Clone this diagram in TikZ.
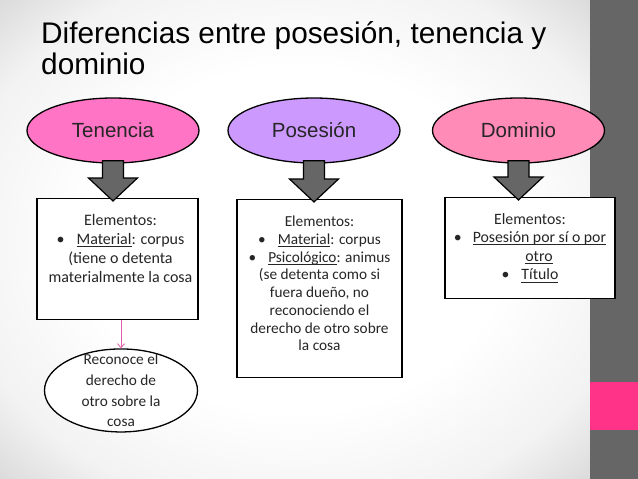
\documentclass[tikz,border=0pt]{standalone}
\usepackage{fontspec}
\setmainfont{Carlito}
\newfontfamily\titlefont{Liberation Sans}
\usetikzlibrary{positioning}
\usetikzlibrary{shapes.geometric, arrows.meta, calc}

\definecolor{bandgray}{HTML}{666666}
\definecolor{bandpink}{HTML}{FF3388}
\definecolor{tencolor}{HTML}{FF74C4}
\definecolor{poscolor}{HTML}{CC99FF}
\definecolor{domcolor}{HTML}{FF8BB6}
\definecolor{linkpink}{HTML}{E45CAC}
\pgfdeclareradialshading{slideshade}{\pgfpoint{0bp}{0bp}}{color(0bp)=(white); color(18bp)=(white); color(29bp)=(gray!10); color(36bp)=(gray!30); color(50bp)=(gray!30)}
\newcommand\undl[1]{\setbox0=\hbox{#1}\rlap{\rule[-2.4pt]{\wd0}{0.7pt}}\box0}

\begin{document}
\begin{tikzpicture}[x=1pt, y=-1pt, node distance = 28pt]
    \tikzset{
    topic/.style=
    {
        ellipse,
        draw,
        line width=1.3pt,
        minimum width=172pt,
        minimum height=65pt,
        inner sep=0pt,
        font=\titlefont\fontsize{20.5}{24}\selectfont,
        text=black!85
    },
    elembox/.style=
    {
        rectangle,
        draw,
        line width=1.3pt,
        fill=white,
        anchor=north
    },
    elemtext/.style=
    {
        align=center,
        inner sep=0pt,
        anchor=north,
        text=black!85
    },
    recell/.style=
    {
        ellipse,
        draw,
        line width=1.3pt,
        fill=white,
        minimum width=153pt,
        minimum height=83pt
    },
    bigarrow/.style=
    {
        draw,
        line width=1.2pt,
        fill=bandgray
    },
    link/.style=
    {
        draw=linkpink,
        line width=0.8pt,
        -{Straight Barb[length=4pt,width=7pt]}
    }
}

  \useasboundingbox (0,0) rectangle (638,479);
  \shade[shading=slideshade] (0,0) rectangle (590,479);
  \fill[bandgray] (590,0) rectangle (638,479);
  \fill[bandpink] (590,382) rectangle (638,430);

  \node[anchor=north west, inner sep=0pt, align=left, font=\titlefont\fontsize{29.8}{31}\selectfont] (title) at (41,21) {Diferencias entre posesión, tenencia y\\dominio};

  \node[topic, fill=tencolor] (ten) at (113,130.5) {Tenencia};
  \node[topic, fill=poscolor] (pos) at (314,130.5) {Posesión};
  \node[topic, fill=domcolor] (dom) at (518.5,130.5) {Dominio};

  \node[elembox, minimum width=161pt, minimum height=121pt] (tenbox) at (117.5,198) {};
  \node[elembox, minimum width=165pt, minimum height=178pt] (posbox) at (319.5,199) {};
  \node[elembox, minimum width=170pt, minimum height=101pt] (dombox) at (530,197) {};

  \node[elemtext, font=\fontsize{16}{19}\selectfont] (tentext) at ([xshift=3pt, yshift=-16pt]tenbox.north)
    {Elementos:\\ \textbullet\hspace{12pt}\undl{Material}: corpus\\ (tiene o detenta\\ materialmente la cosa};
  \node[elemtext, font=\fontsize{15.3}{17.7}\selectfont] (postext) at ([yshift=-17pt]posbox.north)
    {Elementos:\\ \textbullet\hspace{12pt}\undl{Material}: corpus\\ \textbullet\hspace{12pt}\undl{Psicológico}: animus\\ (se detenta como si\\ fuera dueño, no\\ reconociendo el\\ derecho de otro sobre\\ la cosa};
  \node[elemtext, font=\fontsize{15.8}{18.6}\selectfont] (domtext) at ([yshift=-16pt]dombox.north)
    {Elementos:\\ \textbullet\hspace{11pt}\undl{Posesión por sí o por}\\ \hspace*{18pt}\undl{otro}\\ \textbullet\hspace{12pt}\undl{Título}};

  \node[recell, below=28pt of tenbox, xshift=3.5pt] (tenrec) {};
  \node[elemtext, anchor=center, font=\fontsize{15.3}{20.8}\selectfont] (rectext) at (tenrec) {Reconoce el\\derecho de\\otro sobre la\\cosa};
  \draw[link] (tenbox.south -| tenrec.north) -- (tenrec.north);

  \foreach \e/\b in {ten/tenbox, pos/posbox, dom/dombox}
  {
    \coordinate (s) at (\e.south);
    \coordinate (t) at (\e.south |- \b.north);
    \draw[bigarrow] ($(s)+(-10.5,-3)$) -- ($(s)+(10.5,-3)$) -- ($(t)+(10.5,-20)$) -- ($(t)+(24.5,-20)$) -- ($(t)+(0,3)$) -- ($(t)+(-24.5,-20)$) -- ($(t)+(-10.5,-20)$) -- cycle;
  }

\end{tikzpicture}
\end{document}
